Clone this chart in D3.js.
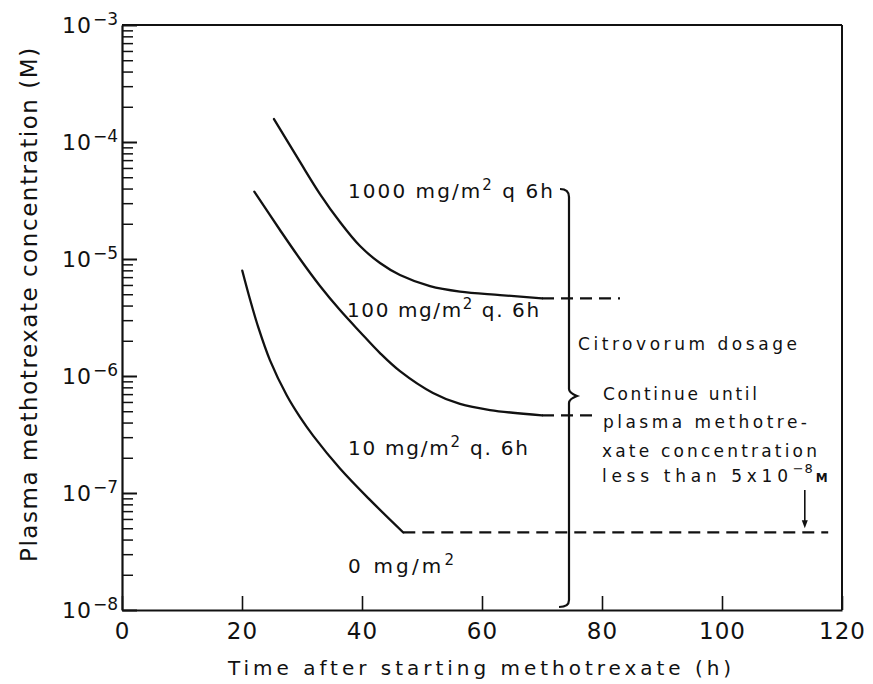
<!DOCTYPE html>
<html>
<head>
<meta charset="utf-8">
<script src="https://cdn.jsdelivr.net/npm/d3@7"></script>
<style>
  body { margin: 0; background: #fff; }
  svg { display: block; }
  text { font-family: "DejaVu Sans", sans-serif; fill: #111; }
</style>
</head>
<body>
<svg id="chart" width="873" height="684"></svg>
<script>
// ---- data: plasma methotrexate concentration (M) vs hours after start ----
const hours1000 = [25.33, 29.67, 33.0, 36.33, 39.67, 43.0, 46.33, 51.33, 56.33, 63.0, 70];
const conc1000  = [1.57e-4, 6.75e-5, 3.59e-5, 2.07e-5, 1.29e-5, 9.24e-6, 7.3e-6, 5.87e-6, 5.27e-6, 4.92e-6, 4.6e-6];

const hours100 = [22.05, 26.33, 29.67, 33.0, 36.33, 39.67, 43.0, 46.33, 51.83, 56.33, 61.33, 70];
const conc100  = [3.76e-5, 1.77e-5, 1.0e-5, 5.88e-6, 3.66e-6, 2.38e-6, 1.57e-6, 1.1e-6, 7.16e-7, 5.77e-7, 5.12e-7, 4.6e-7];

const hours10 = [20.05, 21.33, 22.72, 24.67, 27.45, 29.67, 31.88, 36.33, 41.33, 46.88];
const conc10  = [7.94e-6, 4.53e-6, 2.6e-6, 1.36e-6, 6.84e-7, 4.45e-7, 3.08e-7, 1.62e-7, 8.73e-8, 4.6e-8];

// dashed continuation of each curve (plateau level, start and end hour)
const plateauConc  = [4.6e-6, 4.6e-7, 4.6e-8];
const plateauStart = [70, 70, 46.88];
const plateauEnd   = [83, 79, 117.7];

// stopping threshold for citrovorum rescue
const thresholdConc = 5e-8;
const thresholdHour = 113.8;

const xTickValues = [0, 20, 40, 60, 80, 100, 120];
const yDecades = [1e-8, 1e-7, 1e-6, 1e-5, 1e-4, 1e-3];
const yExponents = ["−8", "−7", "−6", "−5", "−4", "−3"];

// ---- scales ----
const svg = d3.select("#chart");
const x = d3.scaleLinear().domain([0, 120]).range([122, 842]);
const y = d3.scaleLog().domain([1e-8, 1e-3]).range([610, 25]);

function fit(sel, target) {
  sel.each(function () {
    const n = this.getNumberOfChars();
    const w = this.getComputedTextLength();
    d3.select(this).attr("letter-spacing", ((target - w) / Math.max(n - 1, 1)).toFixed(2));
  });
}

// ---- frame ----
svg.append("line").attr("x1", x(0)).attr("x2", x(120)).attr("y1", y(1e-3)).attr("y2", y(1e-3))
  .attr("stroke", "#111").attr("stroke-width", 2);
svg.append("line").attr("x1", x(120)).attr("x2", x(120)).attr("y1", y(1e-3)).attr("y2", y(1e-8))
  .attr("stroke", "#111").attr("stroke-width", 2);

// ---- x axis ----
const gx = svg.append("g").attr("transform", `translate(0,${y(1e-8)})`)
  .call(d3.axisBottom(x).tickValues(xTickValues).tickSize(-14).tickSizeOuter(0).tickPadding(13));
gx.select(".domain").attr("stroke", "#111").attr("stroke-width", 2.2);
gx.selectAll(".tick line").attr("stroke", "#111").attr("stroke-width", 1.6);
gx.selectAll(".tick text").attr("font-size", 23).attr("fill", "#111").attr("letter-spacing", 1)
  .style("font-family", '"DejaVu Sans", sans-serif');

// ---- y axis: minor then major ticks ----
const minorVals = y.ticks().filter(v => !yDecades.some(d => Math.abs(d - v) / d < 1e-6));
const gyMinor = svg.append("g").attr("transform", `translate(${x(0)},0)`)
  .call(d3.axisLeft(y).tickValues(minorVals).tickSize(-11).tickSizeOuter(0).tickFormat(""));
gyMinor.select(".domain").attr("stroke", "#111").attr("stroke-width", 2.2);
gyMinor.selectAll(".tick line").attr("stroke", "#111").attr("stroke-width", 1.5);

const gy = svg.append("g").attr("transform", `translate(${x(0)},0)`)
  .call(d3.axisLeft(y).tickValues(yDecades).tickSize(-15).tickSizeOuter(0).tickPadding(4).tickFormat(() => ""));
gy.select(".domain").remove();
gy.selectAll(".tick line").attr("stroke", "#111").attr("stroke-width", 2);
gy.selectAll(".tick text").each(function (d, i) {
  const t = d3.select(this).attr("font-size", 22).attr("fill", "#111")
    .style("font-family", '"DejaVu Sans", sans-serif').attr("dy", "0.33em");
  t.append("tspan").attr("letter-spacing", 1).text("10");
  t.append("tspan").attr("font-size", 17).attr("dx", 1).attr("dy", -8).text(yExponents[i]);
});

// ---- axis titles ----
const xTitle = svg.append("text").attr("x", 228).attr("y", 675).attr("font-size", 20)
  .text("Time after starting methotrexate (h)");
fit(xTitle, 503);

const yTitle = svg.append("text").attr("transform", "translate(37,562) rotate(-90)")
  .attr("font-size", 23).text("Plasma methotrexate concentration (M)");
fit(yTitle, 514);

// ---- curves ----
const line = d3.line().x(d => x(d[0])).y(d => y(d[1])).curve(d3.curveCatmullRom.alpha(0.5));
const series = [
  d3.zip(hours1000, conc1000),
  d3.zip(hours100, conc100),
  d3.zip(hours10, conc10)
];
svg.append("g").selectAll("path").data(series).join("path")
  .attr("d", line).attr("fill", "none").attr("stroke", "#111")
  .attr("stroke-width", 2.3).attr("stroke-linecap", "round");

svg.append("g").selectAll("line").data(plateauConc).join("line")
  .attr("x1", (d, i) => x(plateauStart[i])).attr("x2", (d, i) => x(plateauEnd[i]))
  .attr("y1", d => y(d)).attr("y2", d => y(d))
  .attr("stroke", "#111").attr("stroke-width", 2.2).attr("stroke-dasharray", "12,7");

// ---- curve labels ----
function doseLabel(px, py, lead, tail, width) {
  const t = svg.append("text").attr("x", px).attr("y", py).attr("font-size", 20);
  t.append("tspan").text(lead);
  t.append("tspan").attr("font-size", 15).attr("dy", -8).text("2");
  if (tail) t.append("tspan").attr("dy", 8).text(tail);
  fit(t, width);
  return t;
}
doseLabel(348, 198, "1000 mg/m", " q 6h", 205);
doseLabel(347, 317, "100 mg/m", " q. 6h", 192);
doseLabel(348, 455, "10 mg/m", " q. 6h", 180);
doseLabel(348, 573, "0 mg/m", "", 106);

// ---- brace spanning the dosage range ----
const bx = x(74.5);
const bTop = 189, bMid = 396, bBot = 607;
svg.append("path")
  .attr("d", `M${bx - 9},${bTop} Q${bx},${bTop} ${bx},${bTop + 8} L${bx},${bMid - 7}
              Q${bx},${bMid - 3} ${bx + 8},${bMid} Q${bx},${bMid + 3} ${bx},${bMid + 7}
              L${bx},${bBot - 7} Q${bx},${bBot} ${bx - 10},${bBot}`)
  .attr("fill", "none").attr("stroke", "#111").attr("stroke-width", 2.2);

// ---- notes ----
function note(px, py, s, width) {
  const t = svg.append("text").attr("x", px).attr("y", py).attr("font-size", 17).text(s);
  fit(t, width);
}
note(578, 350, "Citrovorum dosage", 219);
note(603, 400, "Continue until", 154);
note(603, 428, "plasma methotre-", 204);
note(602, 457, "xate concentration", 215);

const last = svg.append("text").attr("x", 602).attr("y", 482).attr("font-size", 17);
last.append("tspan").text("less than 5x10");
fit(last, 186);
last.append("tspan").attr("font-size", 13).attr("dy", -9).attr("letter-spacing", 1).text("−8");
last.append("tspan").attr("font-size", 12).attr("font-weight", "bold").attr("dy", 9).attr("dx", 2)
  .attr("letter-spacing", 0).text("M");

// ---- arrow to the threshold level ----
const ax = x(thresholdHour), ay = y(thresholdConc);
svg.append("line").attr("x1", ax).attr("x2", ax).attr("y1", 490).attr("y2", ay - 6)
  .attr("stroke", "#111").attr("stroke-width", 1.6);
svg.append("path").attr("d", `M${ax - 3},${ay - 8} L${ax + 3},${ay - 8} L${ax},${ay} Z`).attr("fill", "#111");
</script>
</body>
</html>
